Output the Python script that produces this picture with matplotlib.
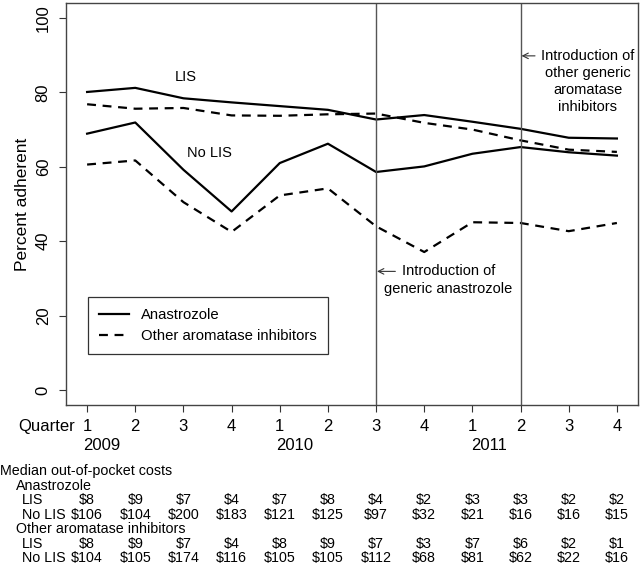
import matplotlib
matplotlib.use("Agg")
import matplotlib.pyplot as plt
from matplotlib import font_manager
from matplotlib.transforms import blended_transform_factory

# adherence (%) by quarter, 2009 Q1 .. 2011 Q4
quarter_labels = ["1", "2", "3", "4", "1", "2", "3", "4", "1", "2", "3", "4"]
years = ["2009", "2010", "2011"]
year_pos = [1.3, 5.3, 9.35]
ana_lis = [80.1, 81.2, 78.4, 77.3, 76.3, 75.3, 72.7, 73.9, 72.1, 70.2, 67.8, 67.6]
other_lis = [76.8, 75.6, 75.8, 73.8, 73.7, 74.1, 74.3, 71.8, 70.0, 67.1, 64.6, 64.0]
ana_nolis = [68.9, 71.9, 59.2, 48.0, 61.0, 66.2, 58.6, 60.1, 63.5, 65.3, 63.9, 63.0]
other_nolis = [60.6, 61.7, 50.5, 42.5, 52.3, 54.2, 44.0, 37.1, 45.1, 44.9, 42.7, 44.9]
events = [7, 10]

# median out-of-pocket costs
cost_ana_lis = ["$8", "$9", "$7", "$4", "$7", "$8", "$4", "$2", "$3", "$3", "$2", "$2"]
cost_ana_nolis = ["$106", "$104", "$200", "$183", "$121", "$125", "$97", "$32", "$21", "$16", "$16", "$15"]
cost_oth_lis = ["$8", "$9", "$7", "$4", "$8", "$9", "$7", "$3", "$7", "$6", "$2", "$1"]
cost_oth_nolis = ["$104", "$105", "$174", "$116", "$105", "$105", "$112", "$68", "$81", "$62", "$22", "$16"]

note_other = ["Introduction of", "other generic", "aromatase", "inhibitors"]
note_ana = ["Introduction of", "generic anastrozole"]

plt.rcParams['font.family'] = ['Liberation Sans', 'DejaVu Sans']
try:
    font_manager.findfont(font_manager.FontProperties(family="Liberation Sans Narrow"),
                          fallback_to_default=False)
    narrow = ['Liberation Sans Narrow', 'DejaVu Sans']
except Exception:
    narrow = ['Liberation Sans', 'DejaVu Sans']

fig = plt.figure(figsize=(6.4, 5.67), dpi=100)
ax = fig.add_axes([0.103, 0.2857, 0.894, 0.709])

x = list(range(1, 13))
ax.plot(x, ana_lis, color="black", lw=1.6, label="Anastrozole")
ax.plot(x, other_lis, color="black", lw=1.6, ls=(0, (4, 3)), label="Other aromatase inhibitors")
ax.plot(x, ana_nolis, color="black", lw=1.6)
ax.plot(x, other_nolis, color="black", lw=1.6, ls=(0, (4, 3)))
for e in events:
    ax.axvline(e, color="#555555", lw=1.0)

ax.set_xlim(0.56, 12.44)
ax.set_ylim(-4, 104)
ax.set_yticks([0, 20, 40, 60, 80, 100])
ax.set_yticklabels(["0", "20", "40", "60", "80", "100"], rotation=90, va="center", fontsize=12)
ax.set_xticks(x)
ax.set_xticklabels(quarter_labels, fontsize=12)
ax.tick_params(length=5, width=0.8, color="#333333", pad=3)
ax.tick_params(axis="x", pad=5)
ax.tick_params(axis="y", pad=6)
ax.set_ylabel("Percent adherent", fontsize=12.5, labelpad=4)
for s in ax.spines.values():
    s.set_color("#444444")
    s.set_linewidth(1.0)

ax.text(3.05, 84, "LIS", fontsize=10.5, family=narrow, ha="center", va="center")
ax.text(3.55, 63.8, "No LIS", fontsize=10.5, family=narrow, ha="center", va="center")

# annotation for second event
ax.annotate("", xy=(10.02, 89.8), xytext=(10.3, 89.8),
            arrowprops=dict(arrowstyle="->", lw=0.8, color="#333333", shrinkA=0, shrinkB=0))
for i, line in enumerate(note_other):
    ax.text(11.4, 89.8 - 4.6 * i, line, fontsize=10.5, family=narrow, ha="center", va="center")
# annotation for first event
ax.annotate("", xy=(7.02, 31.9), xytext=(7.4, 31.9),
            arrowprops=dict(arrowstyle="->", lw=0.8, color="#333333", shrinkA=0, shrinkB=0))
for i, line in enumerate(note_ana):
    ax.text(8.5, 31.9 - 4.6 * i, line, fontsize=10.5, family=narrow, ha="center", va="center")

leg = ax.legend(loc="upper left", bbox_to_anchor=(0.0385, 0.2687), fontsize=10.7,
                fancybox=False, frameon=True, edgecolor="black", handlelength=2.0,
                borderpad=0.75, labelspacing=0.45, handletextpad=0.8, borderaxespad=0)
leg.get_frame().set_linewidth(0.9)
for t in leg.get_texts():
    t.set_family(narrow)

tr = blended_transform_factory(ax.transData, fig.transFigure)
H = 567.0
fig.text(75 / 640, 1 - 427 / H, "Quarter", fontsize=12, ha="right", va="center")
for yp, yl in zip(year_pos, years):
    fig.text(yp, 1 - 445 / H, yl, fontsize=12, ha="center", va="center", transform=tr)

fs = 10.3
fig.text(0.0, 1 - 471 / H, "Median out-of-pocket costs", fontsize=fs, va="center")
fig.text(16 / 640, 1 - 486 / H, "Anastrozole", fontsize=fs, va="center")
fig.text(16 / 640, 1 - 529 / H, "Other aromatase inhibitors", fontsize=fs, va="center")
rows = [(500, "LIS", cost_ana_lis), (515, "No LIS", cost_ana_nolis),
        (544, "LIS", cost_oth_lis), (558, "No LIS", cost_oth_nolis)]
for yy, lab, vals in rows:
    fig.text(22 / 640, 1 - yy / H, lab, fontsize=fs, va="center")
    for xi, v in zip(x, vals):
        fig.text(xi, 1 - yy / H, v, fontsize=fs, ha="center", va="center", transform=tr)

fig.savefig("out.png", dpi=100)
